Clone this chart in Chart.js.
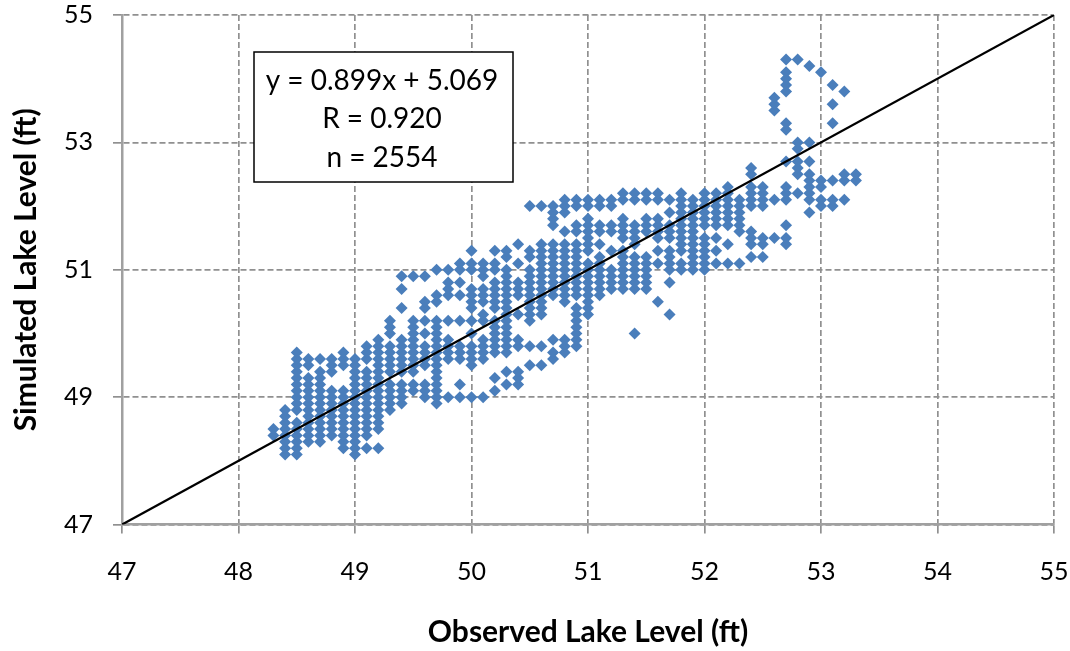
<!DOCTYPE html>
<html>
<head>
<meta charset="utf-8">
<script src="https://cdn.jsdelivr.net/npm/chart.js@4/dist/chart.umd.min.js"></script>
<style>html,body{margin:0;padding:0;background:#fff}canvas{display:block}</style>
</head>
<body>
<canvas id="c" width="1070" height="651"></canvas>
<script>
const xTitle = "Observed Lake Level (ft)";
const yTitle = "Simulated Lake Level (ft)";
const statLines = ["y = 0.899x + 5.069", "R = 0.920", "n = 2554"];
const axisMin = 47;
const axisMax = 55;
const trendX = [47, 55];
const trendY = [47, 55];
const observedLevels = [48.3,48.4,48.5,48.6,48.7,48.8,48.9,49.0,49.1,49.2,49.3,49.4,49.5,49.6,49.7,49.8,49.9,50.0,50.1,50.2,50.3,50.4,50.5,50.6,50.7,50.8,50.9,51.0,51.1,51.2,51.3,51.4,51.5,51.6,51.7,51.8,51.9,52.0,52.1,52.2,52.3,52.4,52.5,52.6,52.7,52.8,52.9,53.0,53.1,53.2,53.3];
const simulatedByObserved = [
[48.4,48.5],
[48.1,48.2,48.3,48.4,48.5,48.6,48.7,48.8],
[48.1,48.2,48.3,48.4,48.5,48.6,48.8,48.9,49.0,49.1,49.2,49.3,49.4,49.5,49.6,49.7],
[48.3,48.4,48.5,48.6,48.7,48.8,48.9,49.0,49.1,49.2,49.3,49.5,49.6],
[48.3,48.4,48.5,48.6,48.7,48.8,48.9,49.0,49.1,49.2,49.3,49.4,49.6],
[48.4,48.5,48.6,48.7,48.8,48.9,49.0,49.1,49.4,49.5,49.6],
[48.2,48.3,48.4,48.5,48.6,48.7,48.8,48.9,49.0,49.1,49.5,49.6,49.7],
[48.1,48.2,48.3,48.4,48.5,48.6,48.7,48.8,48.9,49.0,49.1,49.2,49.3,49.4,49.5,49.6],
[48.2,48.4,48.5,48.6,48.7,48.8,48.9,49.0,49.1,49.2,49.3,49.4,49.6,49.7,49.8],
[48.2,48.5,48.6,48.7,48.8,48.9,49.0,49.1,49.2,49.3,49.4,49.5,49.6,49.7,49.8,49.9],
[48.8,48.9,49.0,49.1,49.2,49.4,49.5,49.6,49.7,49.8,50.0,50.1,50.2],
[48.9,49.0,49.1,49.2,49.4,49.5,49.6,49.7,49.8,49.9,50.4,50.7,50.9],
[49.1,49.2,49.4,49.5,49.6,49.7,49.8,49.9,50.0,50.1,50.2,50.9],
[49.0,49.1,49.2,49.5,49.6,49.7,49.8,50.0,50.2,50.4,50.5,50.9],
[48.9,49.0,49.1,49.2,49.3,49.4,49.5,49.6,49.7,49.8,49.9,50.0,50.1,50.2,50.5,50.6,51.0],
[49.0,49.6,49.7,49.8,49.9,50.2,50.6,50.7,50.8,51.0],
[49.0,49.2,49.6,49.7,49.8,50.2,50.6,50.8,51.0,51.1],
[49.0,49.5,49.6,49.7,49.8,50.0,50.2,50.4,50.5,50.6,50.7,51.0,51.1,51.3],
[49.0,49.6,49.7,49.8,49.9,50.2,50.3,50.5,50.6,50.7,50.9,51.0,51.1],
[49.1,49.3,49.7,49.8,49.9,50.0,50.1,50.2,50.4,50.5,50.6,50.7,50.8,51.0,51.1,51.3],
[49.2,49.4,49.7,49.8,49.9,50.0,50.1,50.2,50.3,50.4,50.5,50.6,50.7,50.8,50.9,51.0,51.2,51.3],
[49.2,49.3,49.4,49.8,49.9,50.3,50.6,50.7,50.8,51.1,51.4],
[49.5,49.8,50.2,50.3,50.4,50.5,50.6,50.7,50.8,50.9,51.0,51.2,51.3,52.0],
[49.5,49.8,50.3,50.4,50.5,50.6,50.7,50.8,50.9,51.0,51.1,51.2,51.3,51.4,52.0],
[49.6,49.7,49.9,50.6,50.7,50.8,50.9,51.0,51.1,51.2,51.3,51.4,51.7,51.8,51.9,52.0],
[49.7,49.8,49.9,50.5,50.6,50.7,50.8,50.9,51.0,51.1,51.2,51.3,51.4,51.6,51.9,52.0,52.1],
[49.8,49.9,50.0,50.1,50.2,50.3,50.4,50.6,50.7,50.8,50.9,51.0,51.1,51.2,51.3,51.4,51.6,51.7,52.0,52.1],
[50.3,50.4,50.5,50.6,50.7,50.8,50.9,51.0,51.1,51.3,51.4,51.5,51.6,51.7,51.8,52.0,52.1],
[50.6,50.7,50.8,50.9,51.0,51.1,51.2,51.4,51.6,51.7,52.0,52.1],
[50.7,50.8,50.9,51.0,51.3,51.6,51.7,52.0,52.1],
[50.7,50.8,50.9,51.0,51.1,51.2,51.3,51.5,51.6,51.7,51.8,52.1,52.2],
[50.0,50.7,50.8,50.9,51.0,51.1,51.2,51.4,51.5,51.6,51.7,52.1,52.2],
[50.7,50.8,50.9,51.0,51.1,51.2,51.6,51.7,51.8,52.1,52.2],
[50.5,51.1,51.3,51.5,51.6,51.7,51.8,52.1,52.2],
[50.3,50.8,51.0,51.1,51.2,51.3,51.5,51.6,51.7,51.9,52.1],
[51.0,51.1,51.3,51.4,51.5,51.6,51.7,51.8,51.9,52.0,52.1,52.2],
[51.0,51.1,51.2,51.3,51.4,51.5,51.6,51.7,51.8,51.9,52.0,52.1],
[51.0,51.1,51.2,51.3,51.4,51.5,51.7,51.8,51.9,52.0,52.1,52.2],
[51.1,51.3,51.5,51.7,51.8,51.9,52.0,52.1,52.2],
[51.1,51.4,51.7,51.8,51.9,52.0,52.1,52.2,52.3],
[51.1,51.6,51.7,51.8,51.9,52.0,52.1],
[51.2,51.4,51.5,51.6,52.0,52.1,52.2,52.3,52.5,52.6],
[51.2,51.4,51.5,52.0,52.1,52.2,52.3],
[51.5,52.1,53.5,53.6,53.7],
[51.4,51.5,51.7,52.1,52.2,52.3,52.7,53.2,53.3,53.8,53.9,54.0,54.1,54.3],
[52.2,52.5,52.6,52.7,52.9,53.0,54.3],
[51.9,52.1,52.2,52.3,52.4,52.5,52.7,53.0,54.2],
[52.0,52.1,52.3,52.4,54.1],
[52.0,52.1,52.4,53.3,53.6,53.9],
[52.1,52.4,52.5,53.8],
[52.4,52.5]
];

const xTicks = [47,48,49,50,51,52,53,54,55];
const yTicks = [47,49,51,53,55];
const scatterPoints = observedLevels.flatMap((x, i) => simulatedByObserved[i].map(y => ({x, y})));
const trendPoints = trendX.map((x, i) => ({x, y: trendY[i]}));

const FONT = "Lato, Carlito, Calibri, sans-serif";
const statsBox = {
  id: "statsBox",
  afterDraw(chart) {
    const c = chart.ctx;
    c.save();
    c.fillStyle = "#fff";
    c.strokeStyle = "#000";
    c.lineWidth = 1.5;
    c.fillRect(254, 52, 259, 130);
    c.strokeRect(254, 52, 259, 130);
    c.fillStyle = "#000";
    c.font = "28px " + FONT;
    c.textAlign = "center";
    c.textBaseline = "middle";
    const rows = [81, 119, 158];
    statLines.forEach((t, i) => c.fillText(t, 382, rows[i]));
    c.restore();
  }
};

new Chart(document.getElementById("c"), {
  type: "scatter",
  data: {
    datasets: [
      { type: "line", data: trendPoints, borderColor: "#000", borderWidth: 2.2, pointRadius: 0, fill: false, tension: 0, order: 0 },
      { data: scatterPoints, backgroundColor: "#4a7ebb", borderWidth: 0, pointStyle: "rectRot", pointRadius: 6, order: 1 }
    ]
  },
  options: {
    responsive: false,
    animation: false,
    layout: { padding: { top: 15, right: 16, left: 0, bottom: 0 } },
    plugins: { legend: { display: false }, tooltip: { enabled: false } },
    scales: {
      x: {
        type: "linear", min: axisMin, max: axisMax,
        afterBuildTicks: s => { s.ticks = xTicks.map(value => ({value})); },
        afterFit: s => { s.height = 126.4; s.paddingLeft = 0; s.paddingRight = 0; },
        grid: { color: "#909090", lineWidth: 1.7, tickLength: 9, tickColor: "#909090", tickWidth: 1.7, tickBorderDash: [] },
        border: { color: "#a0a0a0", width: 2.5, dash: [6, 3] },
        ticks: { color: "#000", font: { family: FONT, size: 25 }, padding: 23, maxRotation: 0 },
        title: { display: true, text: xTitle, color: "#000", font: { family: FONT, size: 30, weight: "bold" }, padding: { top: 14, bottom: 1 } }
      },
      y: {
        type: "linear", min: axisMin, max: axisMax,
        afterBuildTicks: s => { s.ticks = yTicks.map(value => ({value})); },
        afterFit: s => { s.width = 122; s.paddingTop = 0; s.paddingBottom = 0; },
        grid: { color: "#909090", lineWidth: 1.7, tickLength: 9, tickColor: "#909090", tickWidth: 1.7, tickBorderDash: [] },
        border: { color: "#a0a0a0", width: 2.5, dash: [6, 3] },
        ticks: { color: "#000", font: { family: FONT, size: 25 }, padding: 20 },
        title: { display: true, text: yTitle, color: "#000", font: { family: FONT, size: 30, weight: "bold" }, padding: { top: 8, bottom: 0 } }
      }
    }
  },
  plugins: [statsBox]
});
</script>
</body>
</html>
